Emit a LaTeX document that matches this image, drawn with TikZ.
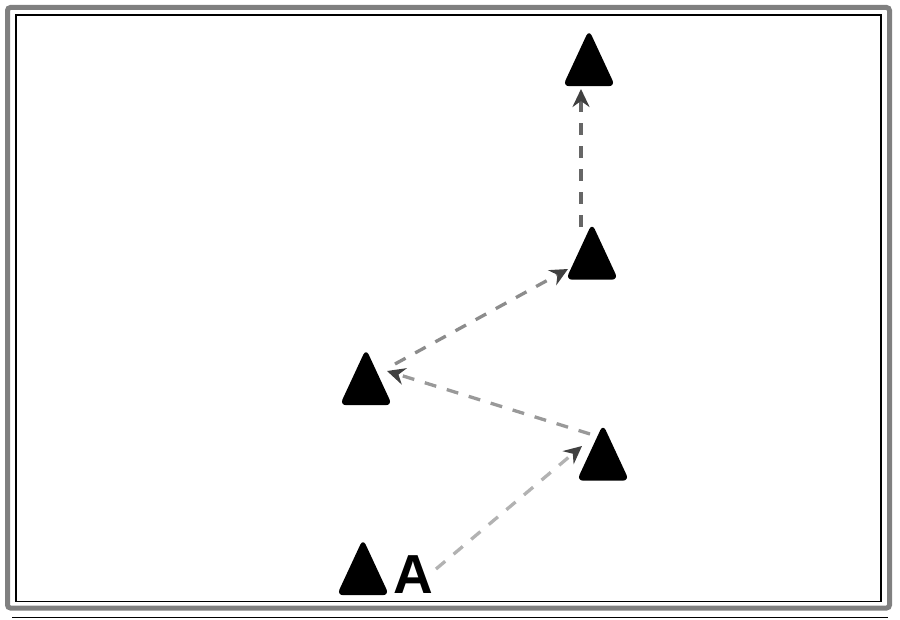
\documentclass[tikz,border=0pt]{standalone}
\usepackage{fontspec}
\setmainfont{Liberation Sans}
\usetikzlibrary{arrows.meta}
\begin{document}
\begin{tikzpicture}[x=1pt,y=-1pt,
  tri/.style={fill=black, rounded corners=6.5pt},
  trinode/.style={inner sep=0pt, minimum width=52pt, minimum height=56pt},
  flow/.style={line width=3.3pt, dash pattern=on 12pt off 11pt,
    -{Stealth[length=18pt,width=17pt,inset=6pt,color=black!75]}},
]
\useasboundingbox (0,0) rectangle (900,620);
% frame
\draw[line width=5pt, draw=black!50, rounded corners=3pt] (7.5,7.5) rectangle (889.5,608);
\draw[line width=1.3pt] (16,15) rectangle (881,601.5);
\draw[line width=1pt] (12,617) -- (888,617);

\newcommand\mytri[3]{%
  \node[trinode] (#1) at (#2,#3) {};
  \fill[tri] (#1.south west) -- (#1.north) -- (#1.south east) -- cycle;}
\mytri{t1}{589}{58}
\mytri{t2}{592}{251.5}
\mytri{t3}{366}{377}
\mytri{t4}{603}{452.5}
\mytri{t5}{363}{567}
\node[anchor=base, inner sep=0pt, font=\fontsize{55}{55}\selectfont\bfseries] (a) at (413,593) {A};

\coordinate (a1) at (436,569);
\coordinate (a2) at (582,446);
\coordinate (b1) at (590,434);
\coordinate (b2) at (387,371);
\coordinate (c1) at (395,364);
\coordinate (c2) at (568,269);
\coordinate (d1) at (581,227);
\coordinate (d2) at (581,89);
\draw[flow, draw=black!30] (a1) -- (a2);
\draw[flow, draw=black!40] (b1) -- (b2);
\draw[flow, draw=black!45] (c1) -- (c2);
\draw[flow, draw=black!60] (d1) -- (d2);
\end{tikzpicture}
\end{document}
